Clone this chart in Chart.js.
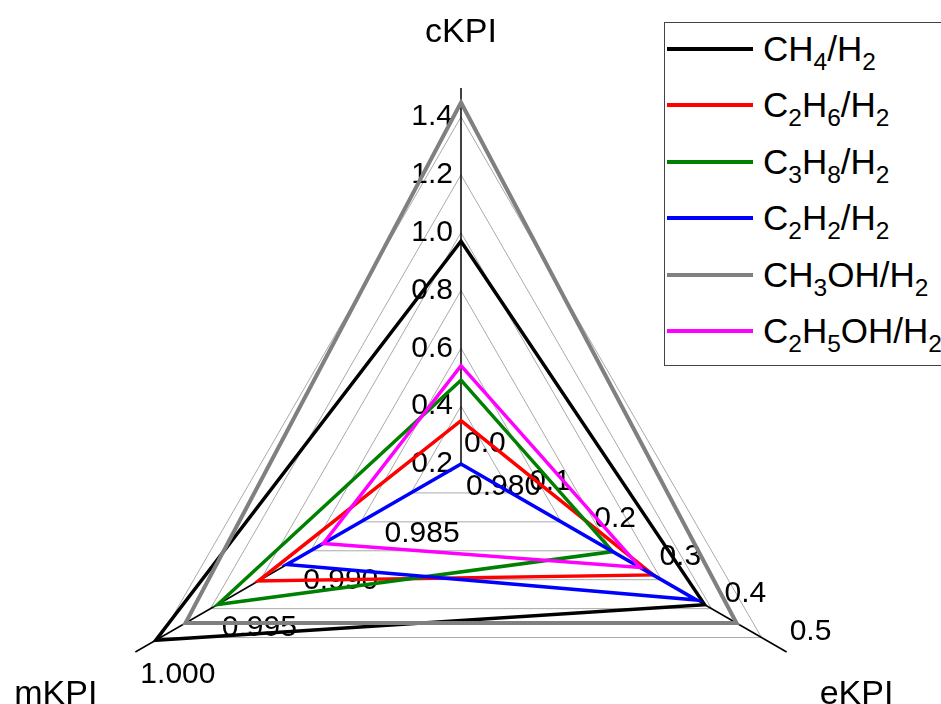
<!DOCTYPE html>
<html>
<head>
<meta charset="utf-8">
<script src="https://cdn.jsdelivr.net/npm/chart.js@4.4.0/dist/chart.umd.min.js"></script>
<style>
  html, body { margin: 0; padding: 0; background: #fff; overflow: hidden; }
  #wrap { position: relative; width: 941px; height: 704px; overflow: hidden; }
  #chart { position: absolute; left: 0; top: 0; }
  .legend {
    position: absolute; left: 664px; top: 22px; width: 330px; height: 342px;
    border: 1.5px solid #444; background: #fff;
    font-family: "Liberation Sans", Arial, sans-serif; font-size: 35px; color: #000;
  }
  .legend .row { position: absolute; left: 0; height: 40px; display: flex; align-items: center; }
  .legend .swatch { width: 86px; height: 4px; margin-left: 2px; margin-right: 10px; }
  .legend sub { font-size: 0.7em; vertical-align: -0.38em; line-height: 0; }
</style>
</head>
<body>
<div id="wrap">
  <canvas id="chart" width="941" height="840"></canvas>
  <div class="legend" id="legend"></div>
</div>
<script>
// Axes (clockwise from top)
const axisNames = ['cKPI', 'eKPI', 'mKPI'];

// Series names (HTML for subscripts) and colours
const seriesNames = ['CH<sub>4</sub>/H<sub>2</sub>', 'C<sub>2</sub>H<sub>6</sub>/H<sub>2</sub>', 'C<sub>3</sub>H<sub>8</sub>/H<sub>2</sub>',
  'C<sub>2</sub>H<sub>2</sub>/H<sub>2</sub>', 'CH<sub>3</sub>OH/H<sub>2</sub>', 'C<sub>2</sub>H<sub>5</sub>OH/H<sub>2</sub>'];
const seriesColors = ['#000000', '#ff0000', '#008000', '#0000ff', '#808080', '#ff00ff'];

// Values per axis, one per series
const cKPI = [0.97, 0.35, 0.49, 0.20, 1.45, 0.54];
const eKPI = [0.374, 0.295, 0.233, 0.362, 0.423, 0.275];
const mKPI = [0.99875, 0.99245, 0.99494, 0.9907, 0.99692, 0.98846];

// Tick labels of each axis
const cTicks = [0.2, 0.4, 0.6, 0.8, 1.0, 1.2, 1.4];
const eTicks = [0.0, 0.1, 0.2, 0.3, 0.4, 0.5];
const mTicks = [0.980, 0.985, 0.990, 0.995, 1.000];

// every axis has its own range; the radial scale runs 0..6.5 (one unit = 0.2 of cKPI)
const RMAX = 6.5;
const axisRange = [[0.2, 1.5], [0.0, 0.5], [0.98, 1.0]];
function toUnits(axis, v) {
  const [lo, hi] = axisRange[axis];
  return (v - lo) / (hi - lo) * RMAX;
}

const font = '"Liberation Sans", Arial, sans-serif';

const datasets = seriesNames.map((name, i) => ({
  label: name,
  data: [toUnits(0, cKPI[i]), toUnits(1, eKPI[i]), toUnits(2, mKPI[i])],
  borderColor: seriesColors[i],
  borderWidth: i === 4 ? 4 : 3.5,
  pointRadius: 0,
  fill: false,
  order: -i
}));

// per-axis tick labels and axis titles
const axisLabels = {
  id: 'axisLabels',
  beforeDatasetsDraw(chart) {
    const s = chart.scales.r;
    const ctx = chart.ctx;
    ctx.save();
    ctx.fillStyle = '#000';
    ctx.font = '30px ' + font;
    cTicks.forEach(v => {
      const p = s.getPointPositionForValue(0, toUnits(0, v));
      ctx.textAlign = 'right';
      ctx.textBaseline = 'middle';
      ctx.fillText(v.toFixed(1), p.x - 8, p.y);
    });
    eTicks.forEach(v => {
      const p = s.getPointPositionForValue(1, toUnits(1, v));
      ctx.textAlign = 'left';
      ctx.textBaseline = 'alphabetic';
      ctx.fillText(v.toFixed(1), p.x + 3, p.y - 12);
    });
    mTicks.forEach(v => {
      const p = s.getPointPositionForValue(2, toUnits(2, v));
      ctx.textAlign = 'left';
      ctx.textBaseline = 'alphabetic';
      ctx.fillText(v.toFixed(3), p.x + 5, p.y + 31);
    });
    ctx.restore();
  },
  afterDraw(chart) {
    const s = chart.scales.r;
    const ctx = chart.ctx;
    ctx.save();
    ctx.fillStyle = '#000';
    ctx.font = '34px ' + font;
    ctx.textBaseline = 'alphabetic';
    let p = s.getPointPosition(0, s.drawingArea);
    ctx.textAlign = 'center';
    ctx.fillText(axisNames[0], p.x, p.y - 46);
    p = s.getPointPosition(1, s.drawingArea);
    ctx.textAlign = 'left';
    ctx.fillText(axisNames[1], p.x + 33, p.y + 52);
    p = s.getPointPosition(2, s.drawingArea);
    ctx.textAlign = 'right';
    ctx.fillText(axisNames[2], p.x - 38, p.y + 52);
    ctx.restore();
  }
};

new Chart(document.getElementById('chart'), {
  type: 'radar',
  data: { labels: axisNames, datasets: datasets },
  options: {
    responsive: false,
    animation: false,
    layout: { padding: { left: 85, right: 104, top: 88, bottom: 0 } },
    plugins: { legend: { display: false }, tooltip: { enabled: false } },
    elements: { line: { tension: 0, borderJoinStyle: 'miter' } },
    scales: {
      r: {
        min: 0,
        max: RMAX,
        afterBuildTicks(scale) {
          scale.ticks = [0, 1, 2, 3, 4, 5, 6].map(v => ({ value: v }));
        },
        ticks: { display: false },
        pointLabels: { display: false },
        grid: { color: '#aaaaaa', lineWidth: 1 },
        angleLines: { color: '#000', lineWidth: 1.5 }
      }
    }
  },
  plugins: [axisLabels]
});

// legend with subscripts
const legend = document.getElementById('legend');
seriesNames.forEach((name, i) => {
  const row = document.createElement('div');
  row.className = 'row';
  row.style.top = (6 + 56.4 * i) + 'px';
  row.innerHTML = '<div class="swatch" style="background:' + seriesColors[i] + '"></div><span>' + name + '</span>';
  legend.appendChild(row);
});
</script>
</body>
</html>
